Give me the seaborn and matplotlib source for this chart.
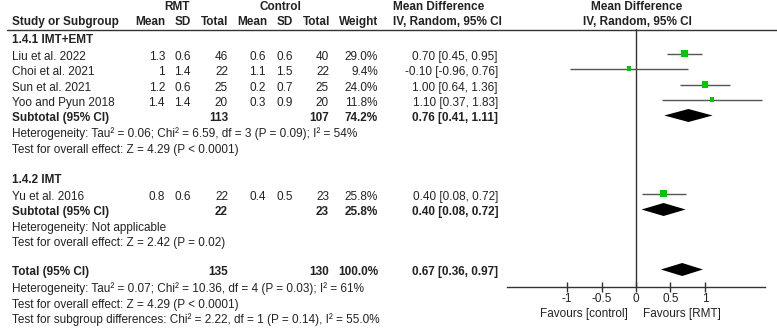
import numpy as np
import pandas as pd
import seaborn as sns
import matplotlib.pyplot as plt

# study level data
studies = ["Liu et al. 2022", "Choi et al. 2021", "Sun et al. 2021", "Yoo and Pyun 2018", "Yu et al. 2016"]
rmt_mean = [1.3, 1, 1.2, 1.4, 0.8]
rmt_sd = [0.6, 1.4, 0.6, 1.4, 0.6]
rmt_n = [46, 22, 25, 20, 22]
ctl_mean = [0.6, 1.1, 0.2, 0.3, 0.4]
ctl_sd = [0.6, 1.5, 0.7, 0.9, 0.5]
ctl_n = [40, 22, 25, 20, 23]
weight = [29.0, 9.4, 24.0, 11.8, 25.8]
md = [0.70, -0.10, 1.00, 1.10, 0.40]
ci_lo = [0.45, -0.96, 0.64, 0.37, 0.08]
ci_hi = [0.95, 0.76, 1.36, 1.83, 0.72]

# pooled rows: subtotal 1.4.1, subtotal 1.4.2, total
pool_label = ["Subtotal (95% CI)", "Subtotal (95% CI)", "Total (95% CI)"]
pool_rmt_n = [113, 22, 135]
pool_ctl_n = [107, 23, 130]
pool_weight = [74.2, 25.8, 100.0]
pool_md = [0.76, 0.40, 0.67]
pool_lo = [0.41, 0.08, 0.36]
pool_hi = [1.11, 0.72, 0.97]

groups = ["1.4.1 IMT+EMT", "1.4.2 IMT"]
het_text = ["Heterogeneity: Tau\u00b2 = 0.06; Chi\u00b2 = 6.59, df = 3 (P = 0.09); I\u00b2 = 54%",
            "Heterogeneity: Not applicable",
            "Heterogeneity: Tau\u00b2 = 0.07; Chi\u00b2 = 10.36, df = 4 (P = 0.03); I\u00b2 = 61%"]
effect_text = ["Test for overall effect: Z = 4.29 (P < 0.0001)",
               "Test for overall effect: Z = 2.42 (P = 0.02)",
               "Test for overall effect: Z = 4.29 (P < 0.0001)"]
subgroup_text = "Test for subgroup differences: Chi\u00b2 = 2.22, df = 1 (P = 0.14), I\u00b2 = 55.0%"
tick_vals = [-1, -0.5, 0, 0.5, 1]
tick_labels = ["-1", "-0.5", "0", "0.5", "1"]

# layout (pixel rows of the table)
study_y = [57, 72, 88, 103, 197]
pool_y = [118, 212, 272]
group_y = [40, 180]
het_y = [134, 228, 289]
effect_y = [150, 243, 305]
subgroup_y = 320

sns.set_style("white")
plt.rcParams['font.family'] = ['Liberation Sans', 'DejaVu Sans']
FS = 8.5
TXT = "#222222"

fig = plt.figure(figsize=(7.77, 3.33), dpi=100)
tx = fig.add_axes([0, 0, 1, 1])
tx.set_xlim(0, 777)
tx.set_ylim(333, 0)
tx.axis("off")


def put(x, y, s, ha="left", bold=False):
    tx.text(x, y, s, ha=ha, va="center", fontsize=FS, color=TXT,
            fontweight="bold" if bold else "normal")


# header
put(177, 7, "RMT", ha="center", bold=True)
put(280, 7, "Control", ha="center", bold=True)
put(393, 7, "Mean Difference", bold=True)
put(637, 7, "Mean Difference", ha="center", bold=True)
put(12, 22, "Study or Subgroup", bold=True)
for x, s in [(165, "Mean"), (191, "SD"), (228, "Total"), (267, "Mean"),
             (293, "SD"), (330, "Total"), (378, "Weight")]:
    put(x, 22, s, ha="right", bold=True)
put(393, 22, "IV, Random, 95% CI", bold=True)
put(637, 22, "IV, Random, 95% CI", ha="center", bold=True)
tx.plot([7, 777], [29.5, 29.5], color="#333333", lw=1)

# study rows
for i in range(len(studies)):
    y = study_y[i]
    put(12, y, studies[i])
    put(165, y, f"{rmt_mean[i]:g}", ha="right")
    put(191, y, f"{rmt_sd[i]:g}", ha="right")
    put(228, y, f"{rmt_n[i]}", ha="right")
    put(266, y, f"{ctl_mean[i]:g}", ha="right")
    put(293, y, f"{ctl_sd[i]:g}", ha="right")
    put(329, y, f"{ctl_n[i]}", ha="right")
    put(378, y, f"{weight[i]:.1f}%", ha="right")
    put(498, y, f"{md[i]:.2f} [{ci_lo[i]:.2f}, {ci_hi[i]:.2f}]", ha="right")

# pooled rows
for j in range(3):
    y = pool_y[j]
    put(12, y, pool_label[j], bold=True)
    put(228, y, f"{pool_rmt_n[j]}", ha="right", bold=True)
    put(329, y, f"{pool_ctl_n[j]}", ha="right", bold=True)
    put(378, y, f"{pool_weight[j]:.1f}%", ha="right", bold=True)
    put(498, y, f"{pool_md[j]:.2f} [{pool_lo[j]:.2f}, {pool_hi[j]:.2f}]", ha="right", bold=True)
    put(12, het_y[j], het_text[j])
    put(12, effect_y[j], effect_text[j])
for g, y in zip(groups, group_y):
    put(12, y, g, bold=True)
put(12, subgroup_y, subgroup_text)
put(628, 314, "Favours [control]", ha="right")
put(643, 314, "Favours [RMT]")

# forest panel
ax = fig.add_axes([507 / 777, 1 - 287 / 333, 258 / 777, 258 / 333])
ax.patch.set_alpha(0)
ax.set_xlim(-1.87, 1.87)
ax.set_ylim(287, 29)

df = pd.DataFrame({"study": studies, "md": md, "lo": ci_lo, "hi": ci_hi,
                   "weight": weight, "y": np.array(study_y) - 3.5})
ax.hlines(df["y"], df["lo"], df["hi"], color="#555555", lw=1, zorder=2)
k = 0.92
sns.scatterplot(data=df, x="md", y="y", size="weight",
                sizes=(k * min(weight), k * max(weight)), size_norm=(min(weight), max(weight)),
                marker="s", color="#00c800", linewidth=0, legend=False, ax=ax, zorder=3)

for j in range(3):
    yc = pool_y[j] - 2.5
    ax.fill([pool_lo[j], pool_md[j], pool_hi[j], pool_md[j]],
            [yc, yc - 6.5, yc, yc + 6.5], color="black", lw=0, zorder=3)

ax.axvline(0, color="#333333", lw=1, zorder=1)
for s in ["top", "left", "right"]:
    ax.spines[s].set_visible(False)
ax.spines["bottom"].set_color("#333333")
ax.spines["bottom"].set_linewidth(1)
ax.set_xticks(tick_vals)
ax.set_xticklabels(tick_labels)
ax.set_yticks([])
ax.tick_params(axis="x", bottom=True, direction="inout", length=7, width=1,
               color="#333333", labelsize=FS, labelcolor=TXT, pad=1)
ax.set_xlabel("")
ax.set_ylabel("")

fig.savefig("out.png", dpi=100)
